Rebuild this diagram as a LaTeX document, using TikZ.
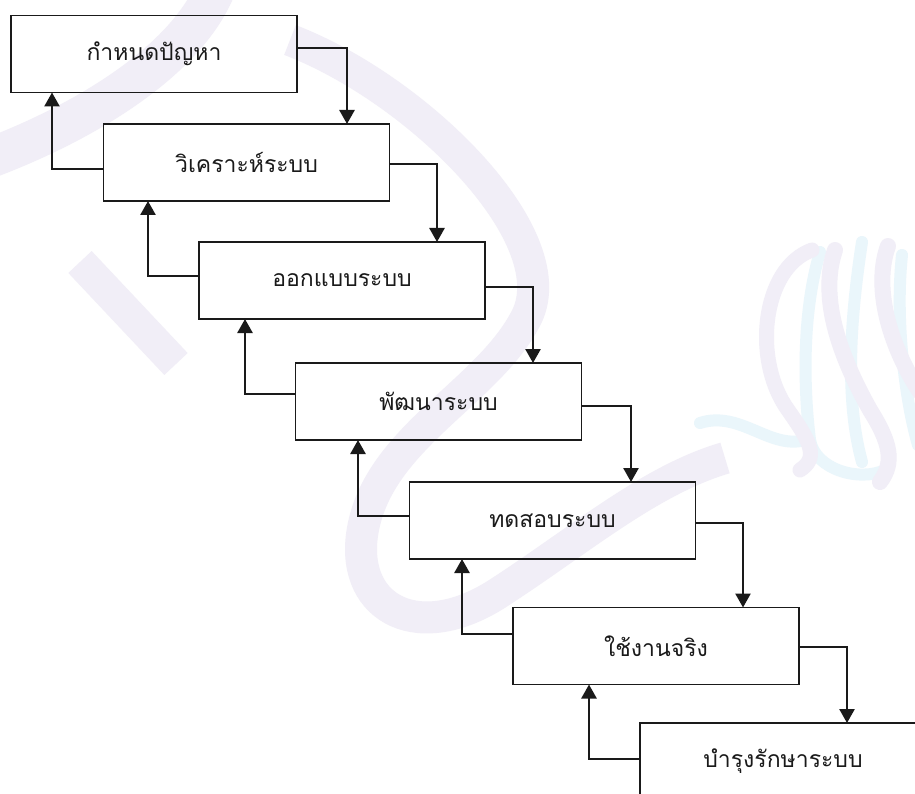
\documentclass[tikz,border=0pt]{standalone}
\usepackage{fontspec}
\newfontfamily\thaifont[Script=Thai]{Loma}
\usetikzlibrary{arrows.meta}
\definecolor{ink}{HTML}{1A1A1A}
\definecolor{wmlav}{HTML}{F1EEF7}
\definecolor{wmcyan}{HTML}{EAF6FB}
\newcommand{\stagetext}[1]{\raisebox{-3pt}{#1}}
\tikzset{
  stagebox/.style={draw=ink, line width=1.5pt, minimum width=286pt, minimum height=77pt,
    inner sep=0pt, outer sep=0pt, font=\thaifont\fontsize{23}{27}\selectfont, text=ink},
  conn/.style={draw=ink, line width=2.6pt, -{Triangle[width=15pt,length=14pt]}},
  wmband/.style={draw=wmlav, line cap=butt},
  wmribbon/.style={draw=wmcyan, line cap=round}
}
\begin{document}
\begin{tikzpicture}[x=1pt,y=-1pt]
\useasboundingbox (0,0) rectangle (915,794);
\clip (0,0) rectangle (915,794);
\fill[white] (0,0) rectangle (915,794);
% faint watermark
\draw[wmband, line width=40pt] (215,-10) .. controls (185,60) and (90,120) .. (-10,158);
\draw[wmband, line width=32pt] (80,262) -- (176,364);
\draw[wmband, line width=32pt] (290,40) .. controls (420,90) and (570,240) .. (525,320)
   .. controls (485,395) and (375,440) .. (362,535)
   .. controls (352,610) and (420,645) .. (500,592)
   .. controls (580,540) and (650,480) .. (725,458);
\draw[wmribbon, line width=12pt] (700,423) .. controls (740,410) and (770,450) .. (805,440);
\draw[wmribbon, line width=12pt] (820,252) .. controls (800,320) and (805,400) .. (810,440) .. controls (815,470) and (860,482) .. (885,470);
\draw[wmribbon, line width=12pt] (862,242) .. controls (850,320) and (845,400) .. (862,462);
\draw[wmribbon, line width=12pt] (902,255) .. controls (895,320) and (905,400) .. (918,445);
\draw[wmband, line width=15pt, line cap=round] (812,250) .. controls (762,268) and (752,360) .. (788,410) .. controls (812,444) and (818,458) .. (800,470);
\draw[wmband, line width=16pt, line cap=round] (835,250) .. controls (818,300) and (842,360) .. (870,410) .. controls (890,442) and (895,462) .. (880,482);
\draw[wmband, line width=16pt, line cap=round] (888,246) .. controls (872,290) and (892,350) .. (920,392);
% stages
\node[stagebox] (b1) at (154,54) {\stagetext{กำหนดปัญหา}};
\node[stagebox] (b2) at (246.5,162.5) {\stagetext{วิเคราะห์ระบบ}};
\node[stagebox] (b3) at (342,280.5) {\stagetext{ออกแบบระบบ}};
\node[stagebox] (b4) at (438.5,401.5) {\stagetext{พัฒนาระบบ}};
\node[stagebox] (b5) at (552.5,520.5) {\stagetext{ทดสอบระบบ}};
\node[stagebox] (b6) at (656,646) {\stagetext{ใช้งานจริง}};
\node[stagebox] (b7) at (783,761.5) {\stagetext{บำรุงรักษาระบบ}};
% forward connectors
\draw[conn] ([yshift=6pt]b1.east) -| ([xshift=100.5pt]b2.north);
\draw[conn] ([yshift=-1.5pt]b2.east) -| ([xshift=95pt]b3.north);
\draw[conn] ([yshift=-6.5pt]b3.east) -| ([xshift=94.5pt]b4.north);
\draw[conn] ([yshift=-4.5pt]b4.east) -| ([xshift=78.5pt]b5.north);
\draw[conn] ([yshift=-2.5pt]b5.east) -| ([xshift=87pt]b6.north);
\draw[conn] ([yshift=-1pt]b6.east) -| ([xshift=64pt]b7.north);
% feedback connectors
\draw[conn] ([yshift=-6.5pt]b2.west) -| ([xshift=-102pt]b1.south);
\draw[conn] ([yshift=4.5pt]b3.west) -| ([xshift=-98.5pt]b2.south);
\draw[conn] ([yshift=7.5pt]b4.west) -| ([xshift=-97pt]b3.south);
\draw[conn] ([yshift=4.5pt]b5.west) -| ([xshift=-80.5pt]b4.south);
\draw[conn] ([yshift=12pt]b6.west) -| ([xshift=-90.5pt]b5.south);
\draw[conn] ([yshift=2.5pt]b7.west) -| ([xshift=-67pt]b6.south);
\end{tikzpicture}
\end{document}
